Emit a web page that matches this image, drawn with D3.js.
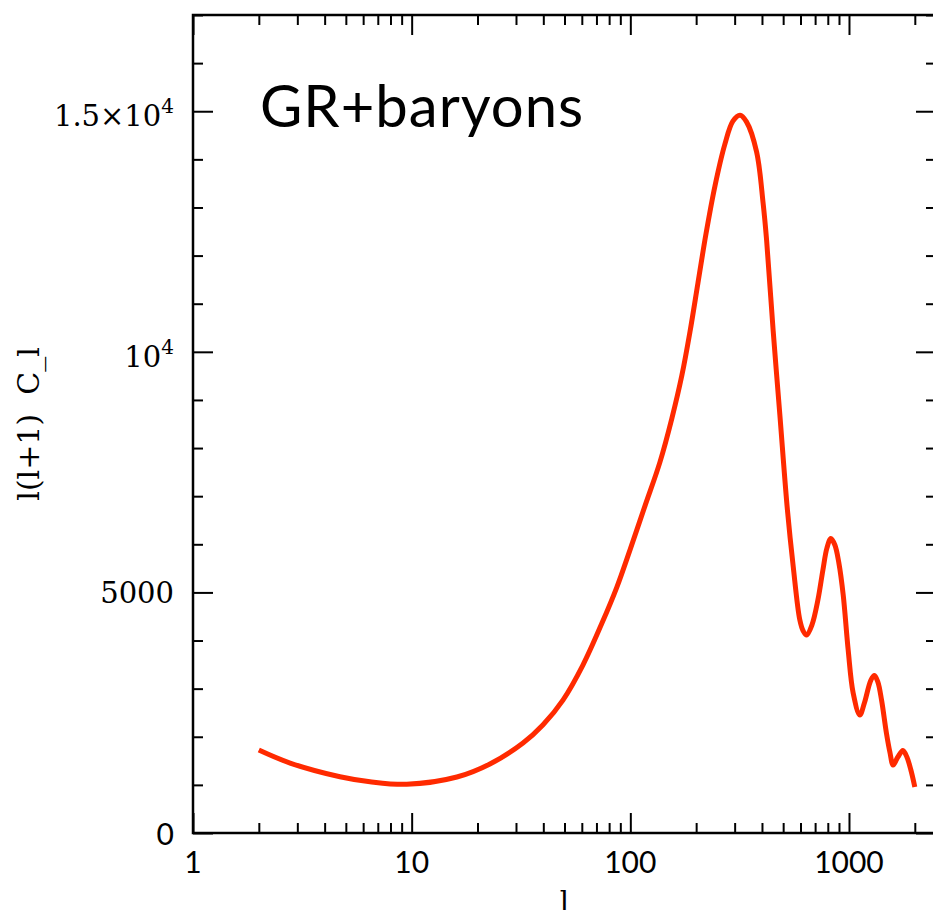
<!DOCTYPE html>
<html>
<head>
<meta charset="utf-8">
<script src="https://cdn.jsdelivr.net/npm/d3@7"></script>
<style>
  html, body { margin: 0; padding: 0; background: #fff; }
  svg { display: block; }
  .serif { font-family: "DejaVu Serif", serif; }
  .sans { font-family: Lato, "Noto Sans", sans-serif; }
  .domain { display: none; }
</style>
</head>
<body>
<svg id="chart" width="933" height="910"></svg>
<script>
// Multipole moment l and the angular power l(l+1) C_l
const multipoles = [2, 2.78, 4.7, 6.45, 9.5, 16.1, 22.8, 32.3, 39.8, 49.2, 60.7, 74.2, 86.8, 99.6,
  116.6, 136.6, 155.0, 172.2, 187.3, 203.8, 221.7, 243.7, 270.7, 294.5, 317.5, 340, 378, 405, 420, 450, 483, 523, 556, 596,
  617.5, 640, 676.7, 720.7, 759.7, 792.5, 826.4, 862, 899, 941, 991.6, 1045, 1121,
  1176, 1259.6, 1307, 1356, 1409, 1484, 1538, 1592, 1673, 1764, 1840, 1919, 2000];
const power = [1724, 1454, 1170, 1066, 1012, 1163, 1434, 1870, 2244, 2763, 3490, 4363, 5111, 5880,
  6794, 7708, 8623, 9516, 10409, 11427, 12445, 13443, 14316, 14794, 14918, 14779, 14155, 13083, 12321, 10440, 8685, 6711, 5533, 4425,
  4197, 4114, 4322, 4841, 5464, 5921, 6119, 5984, 5610, 4945, 3802, 2909, 2452,
  2701, 3179, 3272, 3137, 2763, 2071, 1683, 1413, 1579, 1714, 1579, 1309, 956];

const xMajorTicks = [1, 10, 100, 1000];
const xTickLabels = ["1", "10", "100", "1000"];
const yMajorTicks = [0, 5000, 10000, 15000];
const yTickLabels = [["0", ""], ["5000", ""], ["10", "4"], ["1.5×10", "4"]];
const yMinorStep = 1000;

const svg = d3.select("#chart");
const plotL = 193, plotR = 936, plotT = 15, plotB = 833;

const x = d3.scaleLog().domain([1, 2500]).range([plotL, plotR]);
const y = d3.scaleLinear().domain([0, 17000]).range([plotB, plotT]);

// minor ticks: 2..9 in every decade, within the domain
const xMinor = [];
for (let dec = 1; dec <= 1000; dec *= 10)
  for (let k = 2; k <= 9; k++) if (k * dec <= 2500) xMinor.push(k * dec);
const yMinor = d3.range(0, 17001, yMinorStep).filter(v => !yMajorTicks.includes(v));

function tickStyle(g) {
  g.selectAll(".tick line").attr("stroke", "#000").attr("stroke-width", 2);
  g.selectAll(".tick text").remove();
}

// bottom / top axes (ticks pointing inward)
svg.append("g").attr("transform", `translate(0,${plotB})`)
  .call(d3.axisBottom(x).tickValues(xMinor).tickSize(-10)).call(tickStyle);
svg.append("g").attr("transform", `translate(0,${plotB})`)
  .call(d3.axisBottom(x).tickValues(xMajorTicks).tickSize(-20)).call(tickStyle);
svg.append("g").attr("transform", `translate(0,${plotT})`)
  .call(d3.axisTop(x).tickValues(xMinor).tickSize(-10)).call(tickStyle);
svg.append("g").attr("transform", `translate(0,${plotT})`)
  .call(d3.axisTop(x).tickValues(xMajorTicks).tickSize(-20)).call(tickStyle);

// left / right axes
svg.append("g").attr("transform", `translate(${plotL},0)`)
  .call(d3.axisLeft(y).tickValues(yMinor).tickSize(-10)).call(tickStyle);
svg.append("g").attr("transform", `translate(${plotL},0)`)
  .call(d3.axisLeft(y).tickValues(yMajorTicks).tickSize(-20)).call(tickStyle);
svg.append("g").attr("transform", `translate(${plotR},0)`)
  .call(d3.axisRight(y).tickValues(yMinor).tickSize(-10)).call(tickStyle);
svg.append("g").attr("transform", `translate(${plotR},0)`)
  .call(d3.axisRight(y).tickValues(yMajorTicks).tickSize(-20)).call(tickStyle);

// frame
svg.append("rect")
  .attr("x", plotL).attr("y", plotT)
  .attr("width", plotR - plotL).attr("height", plotB - plotT)
  .attr("fill", "none").attr("stroke", "#000").attr("stroke-width", 2.5);

// x tick labels
svg.append("g").selectAll("text").data(xMajorTicks).join("text")
  .attr("class", "sans")
  .attr("x", d => x(d)).attr("y", plotB + 40)
  .attr("text-anchor", "middle").attr("font-size", 30).attr("fill", "#000")
  .text((d, i) => xTickLabels[i]);

// y tick labels
const yl = svg.append("g").selectAll("text").data(yMajorTicks).join("text")
  .attr("class", (d, i) => i === 0 ? "sans" : "serif")
  .attr("x", plotL - 19)
  .attr("y", (d, i) => y(d) + (yTickLabels[i][1] ? 15 : (i === 0 ? 12 : 10.5)))
  .attr("text-anchor", "end").attr("font-size", (d, i) => i === 0 ? 30 : 29).attr("fill", "#000");
yl.append("tspan").text((d, i) => yTickLabels[i][0]);
yl.append("tspan").attr("dy", -13).attr("font-size", 20).text((d, i) => yTickLabels[i][1]);

// axis titles
svg.append("text").attr("class", "serif")
  .attr("transform", `translate(39,${(plotT + plotB) / 2}) rotate(-90)`)
  .attr("text-anchor", "middle").attr("font-size", 30).attr("fill", "#000")
  .attr("xml:space", "preserve")
  .style("white-space", "pre")
  .text("l(l+1)  C_l");
svg.append("text").attr("class", "serif")
  .attr("x", (plotL + plotR) / 2).attr("y", 912)
  .attr("text-anchor", "middle").attr("font-size", 29).attr("fill", "#000")
  .text("l");

// panel title
svg.append("text").attr("class", "sans")
  .attr("x", 260).attr("y", 127)
  .attr("font-size", 58).attr("letter-spacing", 1).attr("fill", "#000")
  .text("GR+baryons");

// power spectrum curve
const line = d3.line()
  .x((d, i) => x(multipoles[i]))
  .y(d => y(d))
  .curve(d3.curveCatmullRom.alpha(0.5));
svg.append("path")
  .datum(power)
  .attr("d", line)
  .attr("fill", "none")
  .attr("stroke", "#ff2a00")
  .attr("stroke-width", 5)
  .attr("stroke-linejoin", "round")
  .attr("stroke-linecap", "butt");
</script>
</body>
</html>
